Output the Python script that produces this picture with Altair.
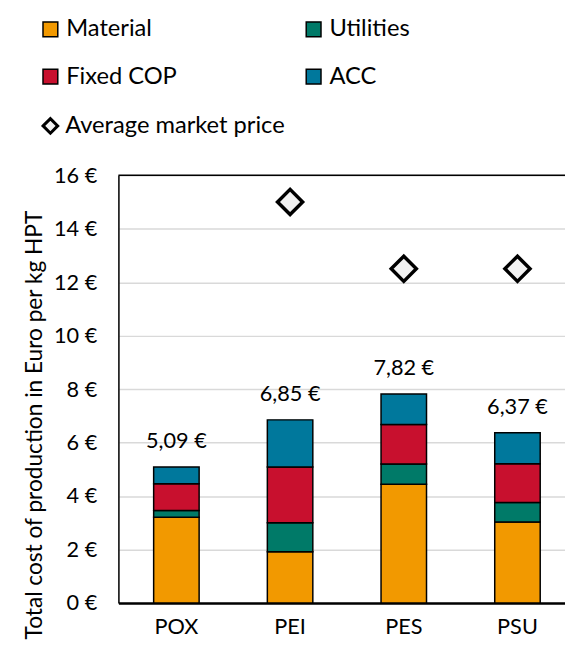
import altair as alt
import pandas as pd

categories = ["POX", "PEI", "PES", "PSU"]
components = ["Material", "Utilities", "Fixed COP", "ACC"]
material = [3.21, 1.92, 4.44, 3.03]
utilities = [0.25, 1.08, 0.76, 0.73]
fixed_cop = [1.00, 2.09, 1.48, 1.45]
acc = [0.63, 1.76, 1.14, 1.16]
totals = [5.09, 6.85, 7.82, 6.37]
market_price = [None, 15.0, 12.5, 12.5]
y_ticks = [0, 2, 4, 6, 8, 10, 12, 14, 16]
colors = ["#F29900", "#007A68", "#C8102E", "#00789C"]

FONT = "Lato"

rows = []
for i, c in enumerate(categories):
    for j, vals in enumerate([material, utilities, fixed_cop, acc]):
        rows.append({"Process": c, "Component": components[j], "order": j, "value": vals[i]})
df = pd.DataFrame(rows)

tot = pd.DataFrame({
    "Process": categories,
    "total": totals,
    "label": [f"{t:.2f} €".replace(".", ",") for t in totals],
})
mp = pd.DataFrame({
    "Process": [c for c, p in zip(categories, market_price) if p is not None],
    "price": [p for p in market_price if p is not None],
})
mp["series"] = "Average market price"
top = pd.DataFrame({"y": [y_ticks[-1]]})

TITLE = "Total cost of production in Euro per kg HPT"
yscale = alt.Scale(domain=[0, 16], nice=False)
yaxis = alt.Axis(
    values=y_ticks, labelExpr="datum.value + ' €'", ticks=False,
    grid=True, gridColor="#d9d9d9", gridWidth=1.5,
    domainColor="black", domainWidth=1.5,
    labelPadding=22, labelFontSize=22, labelColor="black", labelFont=FONT,
    title=TITLE,
    titleFontSize=23, titleFontWeight="normal", titleColor="black", titleFont=FONT,
    titleX=-78, titleY=253, titleAlign="center", titleBaseline="alphabetic",
)
xenc = alt.X(
    "Process:N", sort=categories, title=None,
    scale=alt.Scale(paddingInner=0.6, paddingOuter=0.264, align=0.587),
    axis=alt.Axis(labelAngle=0, ticks=False, domainColor="black", domainWidth=2.5,
                  labelPadding=14, labelFontSize=22, labelColor="black", labelFont=FONT),
)

bars = alt.Chart(df).mark_bar(stroke="black", strokeWidth=1.5).encode(
    x=xenc,
    y=alt.Y("value:Q", stack="zero", scale=yscale, axis=yaxis),
    color=alt.Color(
        "Component:N", sort=components,
        scale=alt.Scale(domain=components, range=colors),
        legend=alt.Legend(
            orient="none", legendX=-81, legendY=-160, columns=2, columnPadding=126,
            direction="horizontal",
            rowPadding=24, symbolType="square", symbolSize=225,
            symbolStrokeColor="black", symbolStrokeWidth=1.5, symbolOpacity=1,
            labelFontSize=24, labelFont=FONT, labelColor="black", labelOffset=4,
            labelLimit=300, title=None, padding=0,
        ),
    ),
    order=alt.Order("order:Q"),
)

rule = alt.Chart(top).mark_rule(color="black", strokeWidth=1.5).encode(
    y=alt.Y("y:Q", scale=yscale, title=TITLE)
)

shape_legend = alt.Legend(
    orient="none", legendX=-81, legendY=-62, symbolType="diamond",
    symbolSize=220, symbolFillColor="#f2f2f2", symbolStrokeColor="black",
    symbolStrokeWidth=3, labelFontSize=24, labelFont=FONT, labelColor="black",
    labelOffset=3, labelLimit=400, title=None, padding=0,
)

points = alt.Chart(mp).mark_point(
    shape="diamond", filled=False, fill="#f2f2f2",
    strokeWidth=3.5, size=650, opacity=1, fillOpacity=1,
).encode(
    x=xenc,
    y=alt.Y("price:Q", scale=yscale, title=TITLE),
    shape=alt.Shape("series:N", scale=alt.Scale(range=["diamond"]), legend=shape_legend),
    stroke=alt.Stroke("series:N", scale=alt.Scale(range=["black"]), legend=shape_legend),
)

text = alt.Chart(tot).mark_text(fontSize=22, font=FONT, dy=-26, baseline="middle", color="black").encode(
    x=xenc,
    y=alt.Y("total:Q", scale=yscale, title=TITLE),
    text="label:N",
)

chart = alt.layer(bars, rule, points, text).properties(
    width=453, height=434,
    autosize=alt.AutoSizeParams(type="none"),
    padding={"left": 112, "top": 165, "right": 0, "bottom": 40},
).configure_view(stroke=None).configure(font=FONT)

chart.save("out.html", embed_options={"renderer": "svg", "actions": False})
